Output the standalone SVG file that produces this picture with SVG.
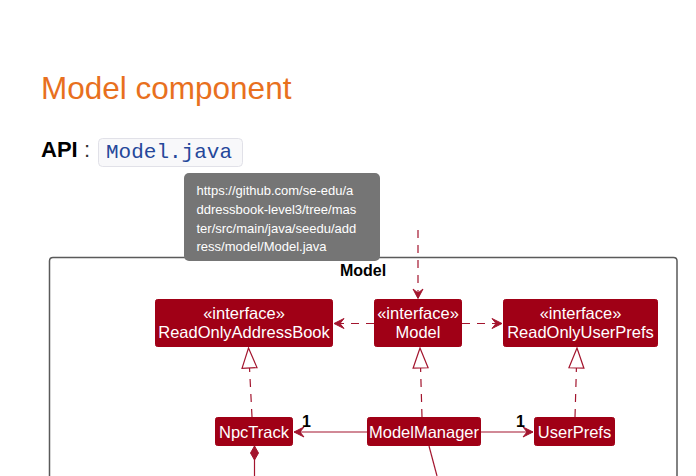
<svg xmlns="http://www.w3.org/2000/svg" width="696" height="476" viewBox="0 0 696 476">
<style>
.node rect{fill:#A00016;stroke:#A00016;stroke-width:1}
.node text{fill:#ffffff;font-family:"Liberation Sans",Arial,sans-serif;font-size:16.5px;text-anchor:middle}
.dash{fill:none;stroke:#A3152E;stroke-width:1.2;stroke-dasharray:8,7}
.solid{fill:none;stroke:#A3152E;stroke-width:1.2}
.mult{font-family:"Liberation Sans",Arial,sans-serif;font-size:16px;font-weight:bold;fill:#000}
.tip{fill:#ffffff;font-family:"Liberation Sans",Arial,sans-serif;font-size:13px}
</style>
<defs>
<marker id="open" markerUnits="userSpaceOnUse" markerWidth="12" markerHeight="12" viewBox="0 0 12 12" refX="11" refY="6" orient="auto">
<path d="M1,1 L11,6 L1,11 L5,6 Z" fill="#A3152E" stroke="#A3152E" stroke-width="1"/>
</marker>
<marker id="tri" markerUnits="userSpaceOnUse" markerWidth="22" markerHeight="18" viewBox="0 0 22 18" refX="21" refY="9" orient="auto">
<path d="M1,1.5 L21,9 L1,16.5 Z" fill="#ffffff" stroke="#A3152E" stroke-width="1.2"/>
</marker>
<marker id="diamond" markerUnits="userSpaceOnUse" markerWidth="16" markerHeight="10" viewBox="0 0 16 10" refX="1" refY="5" orient="auto">
<path d="M1,5 L8,1 L15,5 L8,9 Z" fill="#A3152E" stroke="#A3152E" stroke-width="1"/>
</marker>
</defs>
<rect width="696" height="476" fill="#ffffff"/>
<text x="41" y="99" font-family="'Liberation Sans',Arial,sans-serif" font-size="31.5" fill="#e8701e">Model component</text>
<text x="41" y="157" font-family="'Liberation Sans',Arial,sans-serif" font-size="22" font-weight="bold" fill="#000">API</text>
<text x="84" y="157" font-family="'Liberation Sans',Arial,sans-serif" font-size="22" fill="#333">:</text>
<rect x="98.5" y="138.5" width="144" height="28" rx="4" fill="#f8f8fa" stroke="#e1e1e8" stroke-width="1"/>
<text x="106" y="158" font-family="'Liberation Mono','Courier New',monospace" font-size="21" fill="#25479a">Model.java</text>
<g id="package-Model">
<path d="M49.5,476 L49.5,261 Q49.5,257.5 53,257.5 L673.5,257.5 Q677,257.5 677,261 L677,476" fill="none" stroke="#5a5a5a" stroke-width="1.5"/>
<text x="363" y="276" text-anchor="middle" font-family="'Liberation Sans',Arial,sans-serif" font-size="16" font-weight="bold" fill="#000">Model</text>
</g>
<g id="connectors">
<path class="dash" d="M418,230 L418,298"/>
<path class="dash" d="M374,323.5 L334,323.5" marker-end="url(#open)"/>
<path class="dash" d="M462,323.5 L502,323.5" marker-end="url(#open)"/>
<path class="dash" d="M252,417 L248.5,348" marker-end="url(#tri)"/>
<path class="dash" d="M422,417 L420,348" marker-end="url(#tri)"/>
<path class="dash" d="M575,417 L577,348" marker-end="url(#tri)"/>
<path class="solid" d="M367,432 L294,432" marker-end="url(#open)"/>
<path class="solid" d="M481,432 L533,432" marker-end="url(#open)"/>
<path class="solid" d="M254.5,446 L254.5,476" marker-start="url(#diamond)"/>
<path class="solid" d="M429,446 L437,476"/>
<text class="mult" x="302" y="427">1</text>
<text class="mult" x="516" y="427">1</text>
</g>
<path d="M413,289 L418,298.5 L423,289 L418,293 Z" fill="#A3152E" stroke="#A3152E" stroke-width="1"/>
<g id="ReadOnlyAddressBook" class="node">
<rect x="155.5" y="299.5" width="177" height="47" rx="2"/>
<text x="244" y="319">«interface»</text>
<text x="244" y="338">ReadOnlyAddressBook</text>
</g>
<g id="Model" class="node">
<rect x="374.5" y="299.5" width="87" height="47" rx="2"/>
<text x="418" y="319">«interface»</text>
<text x="418" y="338">Model</text>
</g>
<g id="ReadOnlyUserPrefs" class="node">
<rect x="503.5" y="299.5" width="154" height="47" rx="2"/>
<text x="580.5" y="319">«interface»</text>
<text x="580.5" y="338">ReadOnlyUserPrefs</text>
</g>
<g id="NpcTrack" class="node">
<rect x="215.5" y="417.5" width="77" height="28" rx="2"/>
<text x="254" y="437.5">NpcTrack</text>
</g>
<g id="ModelManager" class="node">
<rect x="367.5" y="417.5" width="113" height="28" rx="2"/>
<text x="424" y="437.5">ModelManager</text>
</g>
<g id="UserPrefs" class="node">
<rect x="534.5" y="417.5" width="80" height="28" rx="2"/>
<text x="574.5" y="437.5">UserPrefs</text>
</g>
<g id="tooltip">
<rect x="184" y="173" width="196" height="88" rx="5" fill="#757575"/>
<text class="tip" x="196.5" y="195">https://github.com/se-edu/a</text>
<text class="tip" x="196.5" y="214">ddressbook-level3/tree/mas</text>
<text class="tip" x="196.5" y="233">ter/src/main/java/seedu/add</text>
<text class="tip" x="196.5" y="251">ress/model/Model.java</text>
</g>
</svg>
